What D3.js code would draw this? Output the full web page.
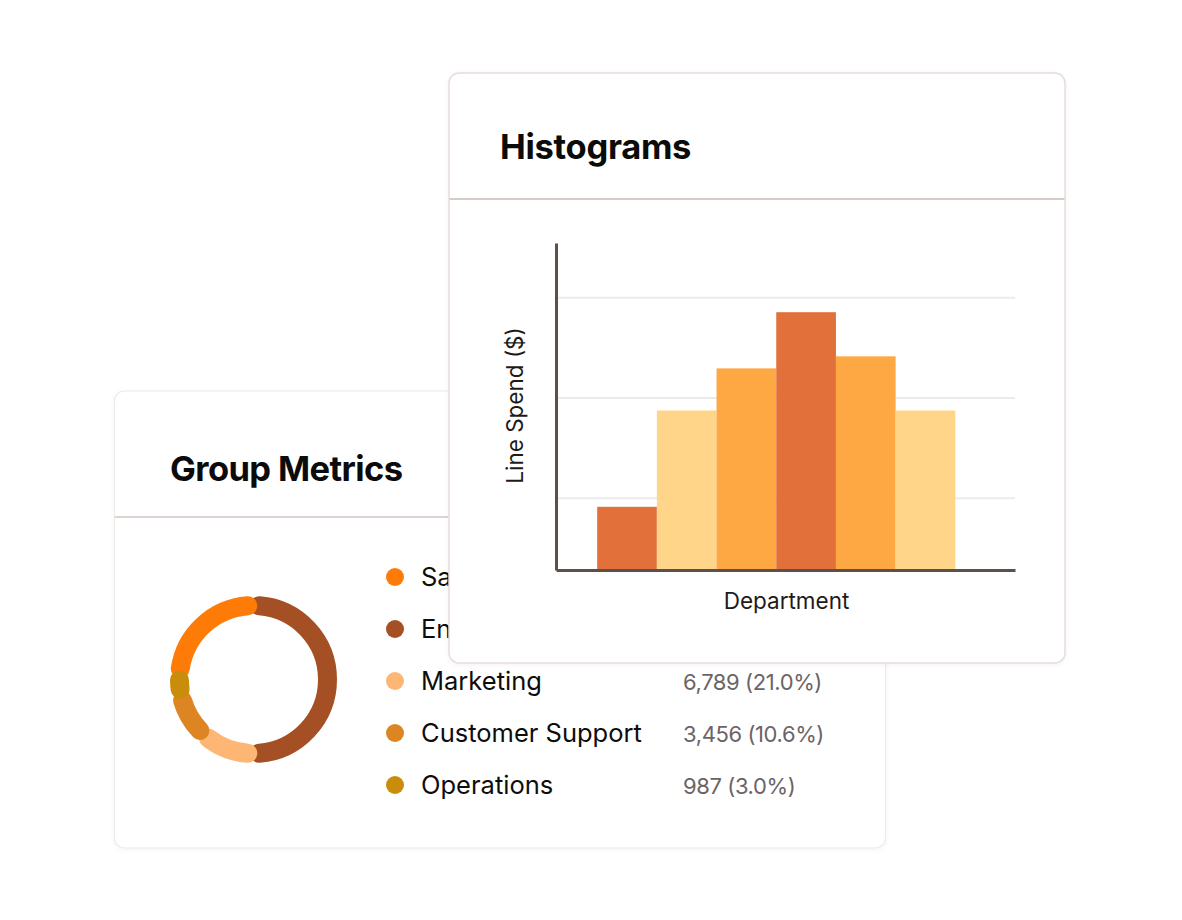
<!DOCTYPE html>
<html>
<head>
<meta charset="utf-8">
<script src="https://cdn.jsdelivr.net/npm/d3@7"></script>
<style>
  html, body { margin: 0; padding: 0; background: #ffffff; }
  svg { display: block; }
  text { font-family: Inter, "Noto Sans", sans-serif; }
</style>
</head>
<body>
<svg id="chart" width="1182" height="920"></svg>
<script>
// ---------- DATA ----------
// Group Metrics (donut + legend); Sales & Engineering values are hidden behind the front card
const groupNames = ["Sales", "Engineering", "Marketing", "Customer Support", "Operations"];
const groupValues = [null, null, 6789, 3456, 987];
const groupPercents = [null, null, 21.0, 10.6, 3.0];
// donut segment sweep (degrees of the ring each colour occupies)
const donutSweep = [86, 180, 42, 36, 16];
// Histogram
const binEdges = [10, 20, 30, 40, 50, 60, 70];
const binValues = [910, 1870, 2290, 2850, 2410, 1870];
const gridTicks = [1000, 2000, 3000];
const histTitle = "Histograms";
const groupTitle = "Group Metrics";
const xLabel = "Department";
const yLabel = "Line Spend ($)";

// ---------- STYLE ----------
const groupColors = ["#FF7B07", "#A55024", "#FDB674", "#DD8522", "#C98D0B"];
const barPalette = ["#E2703B", "#FED589", "#FDA843", "#E2703B", "#FDA843", "#FED589"];

const svg = d3.select("#chart");
const defs = svg.append("defs");
const f = defs.append("filter").attr("id", "shadow").attr("x", "-10%").attr("y", "-10%").attr("width", "120%").attr("height", "120%");
f.append("feDropShadow").attr("dx", 0).attr("dy", 1).attr("stdDeviation", 2).attr("flood-color", "#000").attr("flood-opacity", 0.05);

// ---------- GROUP METRICS CARD ----------
const gm = svg.append("g");
gm.append("rect").attr("x", 114.5).attr("y", 391).attr("width", 771).attr("height", 457)
  .attr("rx", 10).attr("fill", "#fff").attr("stroke", "#eeeae8").attr("stroke-width", 1.2)
  .attr("filter", "url(#shadow)");
gm.append("text").attr("x", 170).attr("y", 481).text(groupTitle)
  .attr("font-size", 34.5).attr("font-weight", 700).attr("fill", "#0b0b0b").attr("letter-spacing", -0.6);
gm.append("line").attr("x1", 115).attr("x2", 885).attr("y1", 517).attr("y2", 517)
  .attr("stroke", "#dcd4d1").attr("stroke-width", 2);

// donut
const cx = 253.5, cy = 679.5, rMid = 74, ring = 19;
const pie = d3.pie().sort(null).startAngle(-Math.PI / 2 + 4 * Math.PI / 180).endAngle(1.5 * Math.PI + 4 * Math.PI / 180);
const arcs = pie(donutSweep);
const capInset = 4.4 * Math.PI / 180;
const drawOrder = [1, 0, 2, 3, 4];
const donut = gm.append("g");
drawOrder.forEach(i => {
  const a = arcs[i];
  let a0 = a.startAngle + capInset, a1 = a.endAngle - capInset;
  if (a1 < a0) { const m = (a.startAngle + a.endAngle) / 2; a0 = m; a1 = m + 0.0001; }
  const p = d3.path();
  p.moveTo(cx + rMid * Math.sin(a0), cy - rMid * Math.cos(a0));
  p.arc(cx, cy, rMid, a0 - Math.PI / 2, a1 - Math.PI / 2, false);
  donut.append("path").attr("d", p.toString()).attr("fill", "none")
    .attr("stroke", groupColors[i]).attr("stroke-width", ring).attr("stroke-linecap", "round");
});

// legend
const legY = d3.scalePoint().domain(groupNames).range([577, 785]);
const fmt = d3.format(",");
const leg = gm.append("g");
groupNames.forEach((n, i) => {
  const y = legY(n);
  leg.append("circle").attr("cx", 395).attr("cy", y).attr("r", 9).attr("fill", groupColors[i]);
  leg.append("text").attr("x", 421).attr("y", y + 9).text(n)
    .attr("font-size", 25.5).attr("fill", "#0d0d0d").attr("letter-spacing", 0);
  if (groupValues[i] != null) {
    leg.append("text").attr("x", 683).attr("y", y + 8.5)
      .text(fmt(groupValues[i]) + " (" + groupPercents[i].toFixed(1) + "%)")
      .attr("font-size", 22).attr("fill", "#6b6466").attr("letter-spacing", -0.4);
  }
});

// ---------- HISTOGRAM CARD ----------
const hc = svg.append("g");
hc.append("rect").attr("x", 449).attr("y", 73).attr("width", 616).attr("height", 590)
  .attr("rx", 10).attr("fill", "#fff").attr("stroke", "#e6ddd8").attr("stroke-width", 1.5)
  .attr("filter", "url(#shadow)");
hc.append("text").attr("x", 500).attr("y", 159).text(histTitle)
  .attr("font-size", 34.5).attr("font-weight", 700).attr("fill", "#0b0b0b").attr("letter-spacing", -0.3);
hc.append("line").attr("x1", 449.5).attr("x2", 1064.5).attr("y1", 199).attr("y2", 199)
  .attr("stroke", "#d6ccc7").attr("stroke-width", 2);

const plot = { left: 556, right: 1015, top: 243, bottom: 570 };
const x = d3.scaleLinear().domain([3.1, 80]).range([plot.left, plot.right]);
const y = d3.scaleLinear().domain([280, 3540]).range([plot.bottom, plot.top]);

// gridlines
const grid = hc.append("g").attr("transform", `translate(${plot.left},0)`)
  .call(d3.axisLeft(y).tickValues(gridTicks).tickSize(-(plot.right - plot.left)).tickFormat(""));
grid.select(".domain").remove();
grid.selectAll("line").attr("stroke", "#ebebeb").attr("stroke-width", 2);

// bars
const bins = binValues.map((v, i) => ({ x0: binEdges[i], x1: binEdges[i + 1], v }));
hc.append("g").selectAll("rect").data(bins).join("rect")
  .attr("x", d => x(d.x0)).attr("width", d => x(d.x1) - x(d.x0))
  .attr("y", d => y(d.v)).attr("height", d => y(y.domain()[0]) - y(d.v))
  .attr("fill", (d, i) => barPalette[i]);

// axes
const yAx = hc.append("g").attr("transform", `translate(${plot.left},0)`)
  .call(d3.axisLeft(y).tickValues([]).tickSizeOuter(0));
const xAx = hc.append("g").attr("transform", `translate(0,${plot.bottom})`)
  .call(d3.axisBottom(x).tickValues([]).tickSizeOuter(0));
[yAx, xAx].forEach(a => a.select(".domain").attr("stroke", "#5c504b").attr("stroke-width", 3));

hc.append("text").attr("x", (plot.left + plot.right) / 2 + 1).attr("y", 609)
  .attr("text-anchor", "middle").text(xLabel)
  .attr("font-size", 22.5).attr("fill", "#1f1a18");
hc.append("text").attr("transform", `translate(523,${(plot.top + plot.bottom) / 2 - 1}) rotate(-90)`)
  .attr("text-anchor", "middle").text(yLabel)
  .attr("font-size", 22.5).attr("fill", "#1f1a18");
</script>
</body>
</html>
